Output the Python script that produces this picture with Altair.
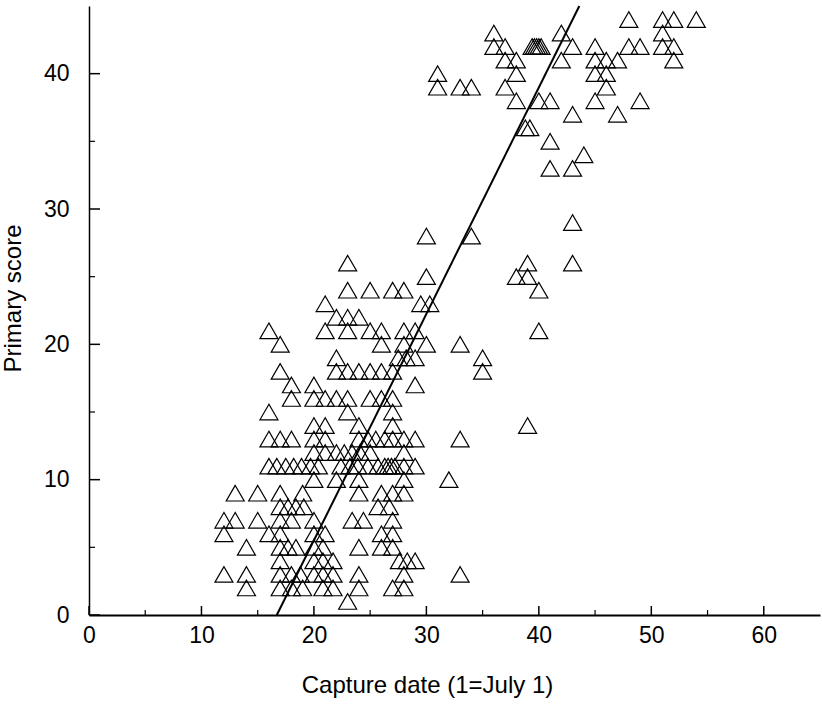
import altair as alt
import pandas as pd

score_44 = [48, 51, 52, 54]
score_43 = [36, 42, 51]
score_42 = [36, 37, 39.4, 39.6, 39.8, 40.0, 40.2, 43, 45, 48, 49, 51, 52]
score_41 = [37, 38, 42, 45, 46, 47, 52]
score_40 = [31, 38, 45, 46]
score_39 = [31, 33, 34, 37, 46]
score_38 = [38, 40, 41, 45, 49]
score_37 = [43, 47]
score_36 = [38.8, 39.2]
score_35 = [41]
score_34 = [44]
score_33 = [41, 43]
score_29 = [43]
score_28 = [30, 34]
score_26 = [23, 39, 43]
score_25 = [30, 38, 39]
score_24 = [23, 25, 27, 28, 40]
score_23 = [21, 29.5, 30.3]
score_22 = [22, 23, 24]
score_21 = [16, 21, 23, 25, 26, 28, 29, 40]
score_20 = [17, 26, 28, 30, 33]
score_19 = [22, 27.5, 28.2, 29, 35]
score_18 = [17, 22, 23, 24, 25, 26, 27, 35]
score_17 = [18, 20, 29]
score_16 = [18, 20, 21, 22, 23, 25, 26, 27]
score_15 = [16, 23, 27]
score_14 = [20, 21, 24, 27, 39]
score_13 = [16, 17, 18, 20, 21, 24, 24.8, 25.5, 26.3, 27, 28, 29, 33]
score_12 = [20, 21, 22, 22.7, 23.4, 24.1, 25, 28]
score_11 = [16, 16.7, 17.5, 18.2, 18.9, 19.7, 20.4, 22.4, 23.2, 23.9, 24.8,
            25.7, 26.3, 26.6, 26.9, 27.2, 28, 29]
score_10 = [20, 22, 24, 28, 32]
score_9 = [13, 15, 17, 19, 24, 26, 27, 28]
score_8 = [17, 17.7, 18.4, 19.1, 25.7, 26.7]
score_7 = [12, 13, 15, 17, 18, 20, 23.4, 24.4, 27]
score_6 = [12, 16, 17, 20, 21, 26, 27]
score_5 = [14, 17, 17.7, 18.4, 20, 20.8, 24, 26, 27]
score_4 = [17, 20, 20.8, 21.7, 27.6, 28.3, 29]
score_3 = [12, 14, 17, 18, 18.8, 20, 20.8, 21.7, 24, 28, 33]
score_2 = [14, 17, 18, 19, 20.8, 21.7, 24, 27, 28]
score_1 = [23]

# Regression line end points
fit_date = [16.7, 43.6]
fit_score = [0, 45]

# Axis ticks
x_major = [0, 10, 20, 30, 40, 50, 60]
x_minor = [5, 15, 25, 35, 45, 55]
y_major = [0, 10, 20, 30, 40]
y_minor = [5, 15, 25, 35]

rows = {
    44: score_44, 43: score_43, 42: score_42, 41: score_41, 40: score_40,
    39: score_39, 38: score_38, 37: score_37, 36: score_36, 35: score_35,
    34: score_34, 33: score_33, 29: score_29, 28: score_28, 26: score_26,
    25: score_25, 24: score_24, 23: score_23, 22: score_22, 21: score_21,
    20: score_20, 19: score_19, 18: score_18, 17: score_17, 16: score_16,
    15: score_15, 14: score_14, 13: score_13, 12: score_12, 11: score_11,
    10: score_10, 9: score_9, 8: score_8, 7: score_7, 6: score_6,
    5: score_5, 4: score_4, 3: score_3, 2: score_2, 1: score_1,
}
recs = []
for s, dates in rows.items():
    for d in dates:
        recs.append({"date": d, "score": s})
pts = pd.DataFrame(recs)
line_df = pd.DataFrame({"date": fit_date, "score": fit_score})

W, H = 731, 609
FONT = "Liberation Sans"

xscale = alt.Scale(domain=[0, 65], nice=False, zero=False)
yscale = alt.Scale(domain=[0, 45], nice=False, zero=False)

points = alt.Chart(pts).mark_point(
    shape="triangle-up", size=324, filled=False, color="black",
    strokeWidth=1.2, opacity=1
).encode(
    x=alt.X("date:Q", scale=xscale, title="Capture date (1=July 1)",
            axis=alt.Axis(values=x_major, ticks=False, grid=False,
                          domainColor="black", domainWidth=2,
                          labelFont=FONT, labelFontSize=23, labelColor="black",
                          labelPadding=9, labelFlush=False,
                          titleFont=FONT, titleFontSize=24, titleFontWeight="normal",
                          titleColor="black", titlePadding=26,
                          titleX=338, titleAnchor="start", titleAlign="center")),
    y=alt.Y("score:Q", scale=yscale, title="Primary score",
            axis=alt.Axis(values=y_major, ticks=False, grid=False,
                          domainColor="black", domainWidth=1.5,
                          labelFont=FONT, labelFontSize=23, labelColor="black",
                          labelPadding=20, labelFlush=False,
                          titleFont=FONT, titleFontSize=24, titleFontWeight="normal",
                          titleColor="black", titlePadding=18,
                          titleY=292, titleAnchor="start", titleAlign="center")),
)

fit = alt.Chart(line_df).mark_line(color="black", strokeWidth=2).encode(
    x=alt.X("date:Q", scale=xscale),
    y=alt.Y("score:Q", scale=yscale),
)

xmaj = alt.Chart(pd.DataFrame({"v": x_major})).mark_rule(color="black", strokeWidth=1.5).encode(
    x=alt.X("v:Q", scale=xscale), y=alt.value(H), y2=alt.value(H - 9))
xmin = alt.Chart(pd.DataFrame({"v": x_minor})).mark_rule(color="black", strokeWidth=1.2).encode(
    x=alt.X("v:Q", scale=xscale), y=alt.value(H), y2=alt.value(H - 5))
ymaj = alt.Chart(pd.DataFrame({"v": y_major})).mark_rule(color="black", strokeWidth=1.5).encode(
    y=alt.Y("v:Q", scale=yscale), x=alt.value(0), x2=alt.value(11))
ymin = alt.Chart(pd.DataFrame({"v": y_minor})).mark_rule(color="black", strokeWidth=1.2).encode(
    y=alt.Y("v:Q", scale=yscale), x=alt.value(0), x2=alt.value(6))

chart = alt.layer(points, fit, xmaj, xmin, ymaj, ymin).properties(
    width=W, height=H,
    autosize=alt.AutoSizeParams(type="none"),
    padding={"left": 89, "top": 6, "right": 2, "bottom": 90},
    background="white",
).configure_view(stroke=None)

chart.save("out.html", embed_options={"renderer": "svg", "actions": False})
